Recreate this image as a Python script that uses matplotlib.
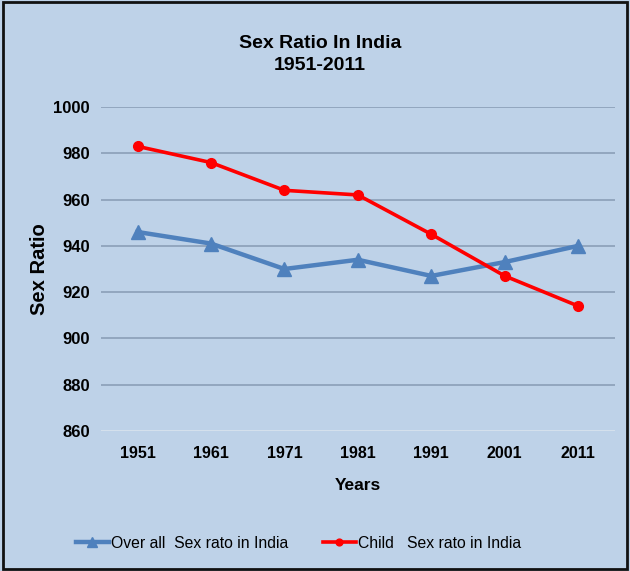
import numpy as np
import matplotlib.pyplot as plt
from matplotlib.patches import Rectangle

plt.rcParams['font.family'] = ['Liberation Sans', 'DejaVu Sans']

years = ["1951", "1961", "1971", "1981", "1991", "2001", "2011"]
overall = [946, 941, 930, 934, 927, 933, 940]
child = [983, 976, 964, 962, 945, 927, 914]
yticks = [860, 880, 900, 920, 940, 960, 980, 1000]

bg = "#bed2e8"

fig = plt.figure(figsize=(6.3, 5.71), dpi=100, facecolor=bg)
ax = fig.add_axes([0.160, 0.2452, 0.816, 0.5674])
ax.set_facecolor(bg)

x = np.arange(len(years))
ax.plot(x, overall, color="#4f81bd", lw=3.2, marker="^", ms=10,
        label="Over all  Sex rato in India")
ax.plot(x, child, color="#ff0000", lw=2.6, marker="o", ms=7,
        label="Child   Sex rato in India")

ax.set_xlim(-0.5, len(years) - 0.5)
ax.set_ylim(860, 1000)
ax.set_yticks(yticks)
ax.set_xticks(x)
ax.set_xticklabels(years)
for lab in ax.get_xticklabels():
    lab.set_fontweight("bold")
    lab.set_fontsize(11.5)
for lab in ax.get_yticklabels():
    lab.set_fontweight("bold")
    lab.set_fontsize(12)
ax.tick_params(axis="x", length=0, pad=11)
ax.tick_params(axis="y", length=0, pad=8)
ax.grid(True, axis="y", color="#8fa3bb", lw=1.3)
ax.set_axisbelow(True)
for s in ax.spines.values():
    s.set_visible(False)
ax.axhline(860, color="#dde7f2", lw=2)

ax.set_xlabel("Years", fontsize=12.5, fontweight="bold")
ax.set_ylabel("Sex Ratio", fontsize=14.5, fontweight="bold")
ax.xaxis.set_label_coords(0.5, -0.145)
ax.yaxis.set_label_coords(-0.10, 0.5)

fig.text(0.508, 0.905, "Sex Ratio In India\n1951-2011", ha="center", va="center",
         fontsize=14, fontweight="bold", linespacing=1.35)

fig.legend(loc="center", bbox_to_anchor=(0.474, 0.049), ncol=2, frameon=False,
           fontsize=11.3, handlelength=2.1, handletextpad=0.15, columnspacing=2.2,
           markerscale=0.7)

fig.patches.append(Rectangle((0.004, 0.004), 0.992, 0.992, transform=fig.transFigure,
                             fill=False, edgecolor="#111111", lw=2))

fig.savefig("out.png", dpi=100, facecolor=bg)
